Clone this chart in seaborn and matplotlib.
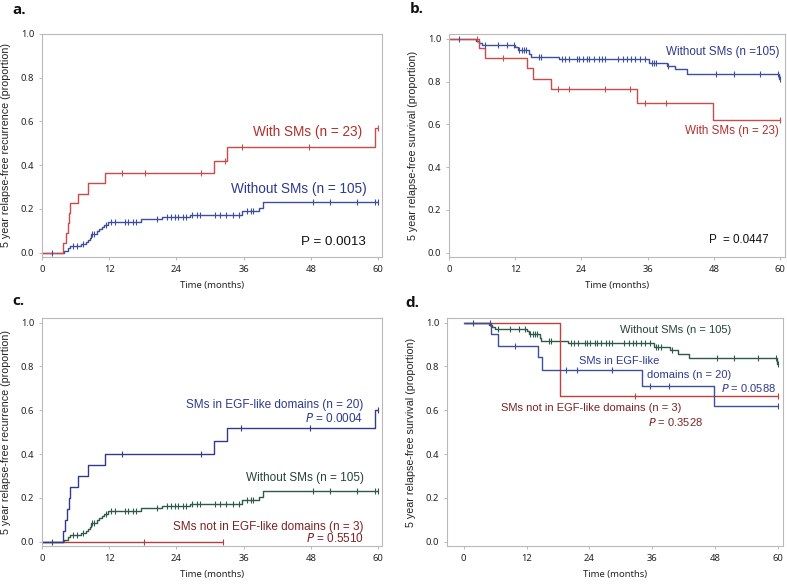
import numpy as np
import pandas as pd
import seaborn as sns
import matplotlib.pyplot as plt

sns.set_style("white")
plt.rcParams["font.family"] = ["Liberation Sans", "DejaVu Sans"]

# ---- data (Kaplan-Meier steps + censor marks) ----
x_ticks = [0, 12, 24, 36, 48, 60]
y_ticks = [0.0, 0.2, 0.4, 0.6, 0.8, 1.0]

# recurrence, with SMs (n = 23)
rec_with_t = [0, 3.7, 4.2, 4.6, 4.8, 5.0, 6.4, 8.3, 11.3, 30.7, 33.0, 59.5, 60]
rec_with_y = [0, 0.045, 0.09, 0.135, 0.18, 0.227, 0.27, 0.318, 0.362, 0.42, 0.485, 0.57, 0.57]
rec_with_cens = [14.3, 18.4, 28.4, 32.6, 35.7, 47.7, 60]

# recurrence, without SMs (n = 105)
rec_wo_t = [0, 4.0, 4.6, 5.0, 6.9, 7.9, 8.2, 8.5, 8.7, 9.8, 10.2, 10.7, 11.1, 11.8,
            17.6, 21.4, 26.4, 35.7, 38.8, 39.5, 60]
rec_wo_y = [0, 0.0095, 0.019, 0.029, 0.038, 0.048, 0.058, 0.068, 0.087, 0.097, 0.107,
            0.117, 0.127, 0.14, 0.152, 0.163, 0.174, 0.19, 0.205, 0.23, 0.23]
rec_wo_cens = [1.8, 5.6, 6.2, 7.3, 8.9, 9.3, 11.5, 12.4, 13.0, 14.8, 15.4, 16.3, 16.7,
               20.5, 22.3, 23.1, 23.7, 24.3, 25.2, 25.7, 26.7, 27.6, 28.2, 30.9, 31.8,
               32.9, 34.1, 35.1, 36.6, 37.3, 37.7, 48.4, 51.5, 56.2, 59.5, 60]

# recurrence, SMs in EGF-like domains (n = 20)
rec_egf_t = [0, 3.7, 4.1, 4.5, 4.8, 5.0, 6.4, 8.3, 11.2, 30.7, 33.1, 59.4, 60]
rec_egf_y = [0, 0.05, 0.10, 0.15, 0.20, 0.25, 0.30, 0.35, 0.40, 0.46, 0.52, 0.60, 0.60]
rec_egf_cens = [14.2, 28.3, 35.5, 47.8, 60]

# recurrence, SMs not in EGF-like domains (n = 3)
rec_nonegf_t = [0, 32.4]
rec_nonegf_y = [0, 0]
rec_nonegf_cens = [18.2, 32.4]

# survival, with SMs (n = 23)
surv_with_t = [0, 5.4, 6.5, 14.1, 15.2, 18.4, 34.1, 47.9, 60]
surv_with_y = [1.0, 0.957, 0.913, 0.864, 0.812, 0.767, 0.70, 0.62, 0.62]
surv_with_cens = [5.0, 9.7, 19.8, 21.7, 28.3, 32.8, 35.5, 39.3, 60]

# survival, without SMs (n = 105)
surv_wo_t = [0, 4.9, 5.4, 6.0, 12.0, 12.5, 14.5, 14.8, 19.9, 36.3, 39.5, 40.9, 43.1, 59.8, 60]
surv_wo_y = [1.0, 0.99, 0.981, 0.971, 0.96, 0.95, 0.93, 0.917, 0.906, 0.889, 0.874,
             0.857, 0.837, 0.812, 0.812]
surv_wo_cens = [1.75, 6.6, 8.9, 10.6, 11.7, 12.7, 13.2, 13.6, 14.0, 16.3, 16.7, 20.5,
                21.1, 21.8, 23.2, 23.6, 24.2, 25.0, 25.4, 26.3, 27.1, 27.7, 28.3, 30.7,
                31.5, 32.3, 32.9, 33.8, 34.6, 35.5, 36.8, 37.1, 37.6, 39.7, 48.4, 51.7,
                56.3, 59.6, 60]

# survival, SMs in EGF-like domains (n = 20)
surv_egf_t = [0, 5.3, 6.5, 14.1, 15.0, 34.1, 47.8, 60]
surv_egf_y = [1.0, 0.95, 0.895, 0.843, 0.785, 0.71, 0.62, 0.62]
surv_egf_cens = [5.0, 9.8, 19.6, 21.7, 28.3, 35.6, 39.2, 60]

# survival, SMs not in EGF-like domains (n = 3)
surv_nonegf_t = [0, 18.3, 60]
surv_nonegf_y = [1.0, 0.667, 0.667]
surv_nonegf_cens = [32.7, 60]

RED, RED_TXT = "#c94c4a", "#b3302c"
BLUE, BLUE_TXT = "#3d4e9c", "#2e3a8f"
NAVY = "#33398a"
GREEN, GREEN_TXT = "#2f5a4a", "#24433a"
MAROON = "#7b2222"
GRID = "#b9b9b9"


def draw_curve(ax, t, y, cens, color):
    steps = pd.DataFrame({"t": t, "y": y})
    sns.lineplot(data=steps, x="t", y="y", drawstyle="steps-post", estimator=None,
                 sort=False, color=color, linewidth=1.0, ax=ax)
    idx = np.searchsorted(t, cens, side="right") - 1
    marks = pd.DataFrame({"t": cens, "y": np.asarray(y)[idx]})
    sns.scatterplot(data=marks, x="t", y="y", marker="|", s=22, color=color,
                    linewidth=0.8, ax=ax, zorder=3)


def style_axes(ax, xlim, ylim, ylabel):
    ax.set_xlim(*xlim)
    ax.set_ylim(*ylim)
    ax.set_xticks(x_ticks)
    ax.set_yticks(y_ticks)
    ax.set_yticklabels([f"{v:.1f}" for v in y_ticks])
    ax.set_xlabel("Time (months)", fontsize=6.8, family="Noto Sans", labelpad=5,
                  color="#222222")
    ax.set_ylabel(ylabel, fontsize=7.7, labelpad=7, color="#222222")
    for s in ax.spines.values():
        s.set_color(GRID)
        s.set_linewidth(0.8)
    ax.tick_params(length=2.5, width=0.7, color=GRID, labelsize=6.8, pad=3,
                   labelcolor="#222222", left=True, bottom=True)
    for lab in ax.get_xticklabels() + ax.get_yticklabels():
        lab.set_family("Noto Sans")


fig = plt.figure(figsize=(7.87, 5.84), dpi=100)
W, H = 787, 584


def axes_px(left, top, right, bottom):
    return fig.add_axes([left / W, 1 - bottom / H, (right - left) / W, (bottom - top) / H])


ax_a = axes_px(42, 34, 382, 257)
ax_b = axes_px(449, 34, 785, 257)
ax_c = axes_px(42, 318, 382, 546)
ax_d = axes_px(447, 318, 783, 546)

rec_label = "5 year relapse-free recurrence (proportion)"
surv_label = "5 year relapse-free survival (proportion)"

# a.
draw_curve(ax_a, rec_wo_t, rec_wo_y, rec_wo_cens, BLUE)
draw_curve(ax_a, rec_with_t, rec_with_y, rec_with_cens, RED)
style_axes(ax_a, (0, 60.7), (-0.02, 1.0), rec_label)
ax_a.text(57.2, 0.55, "With SMs (n = 23)", color=RED_TXT, fontsize=9.8, ha="right", va="center")
ax_a.text(57.9, 0.293, "Without SMs (n = 105)", color=BLUE_TXT, fontsize=9.8, ha="right", va="center")
ax_a.text(57.8, 0.05, "P = 0.0013", color="#111111", fontsize=9.6, ha="right", va="center")

# b.
draw_curve(ax_b, surv_wo_t, surv_wo_y, surv_wo_cens, BLUE)
draw_curve(ax_b, surv_with_t, surv_with_y, surv_with_cens, RED)
style_axes(ax_b, (0, 60.9), (-0.02, 1.023), surv_label)
ax_b.text(59.8, 0.937, "Without SMs (n =105)", color=BLUE_TXT, fontsize=8.4, ha="right", va="center")
ax_b.text(59.8, 0.567, "With SMs (n = 23)", color=RED_TXT, fontsize=8.4, ha="right", va="center")
ax_b.text(57.9, 0.061, "P  = 0.0447", color="#111111", fontsize=8.4, ha="right", va="center")

# c.
draw_curve(ax_c, rec_wo_t, rec_wo_y, rec_wo_cens, GREEN)
draw_curve(ax_c, rec_nonegf_t, rec_nonegf_y, rec_nonegf_cens, "#b04040")
draw_curve(ax_c, rec_egf_t, rec_egf_y, rec_egf_cens, NAVY)
style_axes(ax_c, (0, 60.7), (-0.02, 1.021), rec_label)
ax_c.text(57.4, 0.625, "SMs in EGF-like domains (n = 20)", color=BLUE_TXT, fontsize=8.5, ha="right", va="center")
ax_c.text(57.4, 0.564, "$P$ = 0.0004", color=BLUE_TXT, fontsize=8.5, ha="right", va="center")
ax_c.text(57.4, 0.29, "Without SMs (n = 105)", color=GREEN_TXT, fontsize=8.5, ha="right", va="center")
ax_c.text(57.4, 0.066, "SMs not in EGF-like domains (n = 3)", color=MAROON, fontsize=8.5, ha="right", va="center")
ax_c.text(57.4, 0.012, "$P$ = 0.5510", color=MAROON, fontsize=8.5, ha="right", va="center")

# d.
draw_curve(ax_d, surv_wo_t, surv_wo_y, surv_wo_cens, GREEN)
draw_curve(ax_d, surv_nonegf_t, surv_nonegf_y, surv_nonegf_cens, "#c0403d")
draw_curve(ax_d, surv_egf_t, surv_egf_y, surv_egf_cens, BLUE)
style_axes(ax_d, (-3.2, 61), (-0.02, 1.021), surv_label)
ax_d.text(51.2, 0.965, "Without SMs (n = 105)", color=GREEN_TXT, fontsize=8.0, ha="right", va="center")
ax_d.text(37.3, 0.823, "SMs in EGF-like", color=BLUE_TXT, fontsize=8.0, ha="right", va="center")
ax_d.text(51.1, 0.759, "domains (n = 20)", color=BLUE_TXT, fontsize=8.0, ha="right", va="center")
ax_d.text(59.7, 0.70, "$P$ = 0.0588", color=BLUE_TXT, fontsize=8.0, ha="right", va="center")
ax_d.text(41.5, 0.609, "SMs not in EGF-like domains (n = 3)", color=MAROON, fontsize=8.0, ha="right", va="center")
ax_d.text(45.7, 0.545, "$P$ = 0.3528", color=MAROON, fontsize=8.0, ha="right", va="center")

# panel letters
for lab, (px, py) in {"a.": (12, 10), "b.": (410, 9), "c.": (12, 301), "d.": (405, 303)}.items():
    fig.text(px / W, 1 - py / H, lab, fontsize=11, fontweight="bold", family="Open Sans",
             ha="left", va="center", color="#111111")

fig.savefig("out.png", dpi=100)
